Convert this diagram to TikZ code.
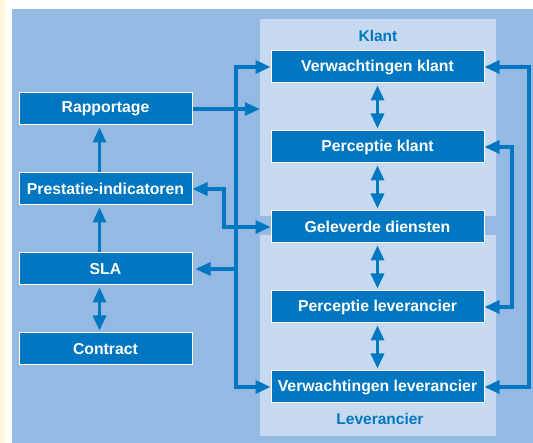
\documentclass[tikz,border=0pt]{standalone}
\usepackage{fontspec}
\setmainfont{Liberation Sans}
\usetikzlibrary{arrows.meta}
\definecolor{achtergrond}{HTML}{94B9E3}
\definecolor{paneel}{HTML}{C6D9F1}
\definecolor{donker}{HTML}{0077C0}
\definecolor{creme}{HTML}{FFF6DE}
\begin{document}
\begin{tikzpicture}[x=1pt, y=1pt, node distance=80pt, >={Triangle[length=15pt,width=13pt]}]
        \tikzstyle{blok}=[draw=white, line width=1pt, fill=donker, text=white, inner sep=0pt, minimum height=32pt, font=\fontsize{15.8}{19}\selectfont\bfseries]
        \tikzstyle{rechts}=[blok, minimum width=213pt]
        \tikzstyle{links}=[blok, minimum width=173pt]
        \tikzstyle{vlak}=[fill=paneel, inner sep=0pt, minimum width=236pt]
        \tikzstyle{kop}=[text=donker, font=\fontsize{15.5}{19}\selectfont\bfseries]
        \tikzstyle{lijn}=[draw=donker, line width=3.2pt]

        \useasboundingbox (0,0) rectangle (533,443);
        \fill[white] (0,0) rectangle (533,443);
        \fill[creme] (0,0) rectangle (6,443);
        \fill[achtergrond] (12,0) rectangle (533,434);

        % Klant en Leverancier
        \node[vlak, minimum height=197pt] (klant) at (378,325.5) {};
        \node[vlak, minimum height=201pt] (lev) at (378,107.5) {};
        \node[kop] (klanttekst) at (378,407) {Klant};
        \node[kop] (levtekst) at (380,24.5) {Leverancier};

        \node[rechts] (vk) at (377.5,376) {Verwachtingen klant};
        \node[rechts, below of=vk] (pk) {Perceptie klant};
        \node[rechts, below of=pk] (gd) {Geleverde diensten};
        \node[rechts, below of=gd] (pl) {Perceptie leverancier};
        \node[rechts, below of=pl] (vl) {Verwachtingen leverancier};

        \node[links] (rap) at (105.5,334) {Rapportage};
        \node[links, below of=rap] (pi) {Prestatie-indicatoren};
        \node[links, below of=pi] (sla) {SLA};
        \node[links, below of=sla] (con) {Contract};

        \coordinate (stam) at (236,0);
        \coordinate (bocht) at (224,0);
        \coordinate (binnen) at (512,0);
        \coordinate (buiten) at (529,0);

        \draw[<->, lijn] (vl.west) -| (stam |- vk.west) -- (vk.west);
        \draw[->, lijn] (stam |- sla.east) -- ([xshift=3pt]sla.east);
        \draw[->, lijn] (rap.east) -- (rap.east -| klant.west);
        \draw[<->, lijn] (pi.east) -| (bocht |- gd.west) -- (gd.west);
        \draw[<->, lijn] (vk.east) -| (buiten |- vl.east) -- (vl.east);
        \draw[<->, lijn] (pk.east) -| (binnen |- pl.east) -- (pl.east);

        \foreach \a/\b in {vk/pk, pk/gd, gd/pl, pl/vl}
            \draw[<->, lijn, shorten <=2pt, shorten >=2pt] (\a.south) -- (\b.north);

        \draw[->, lijn, shorten >=2pt] ([xshift=-6pt]pi.north) -- ([xshift=-6pt]rap.south);
        \draw[->, lijn, shorten >=2pt] ([xshift=-6pt]sla.north) -- ([xshift=-6pt]pi.south);
        \draw[<->, lijn, shorten <=2pt, shorten >=2pt] ([xshift=-6pt]sla.south) -- ([xshift=-6pt]con.north);
    \end{tikzpicture}
\end{document}
